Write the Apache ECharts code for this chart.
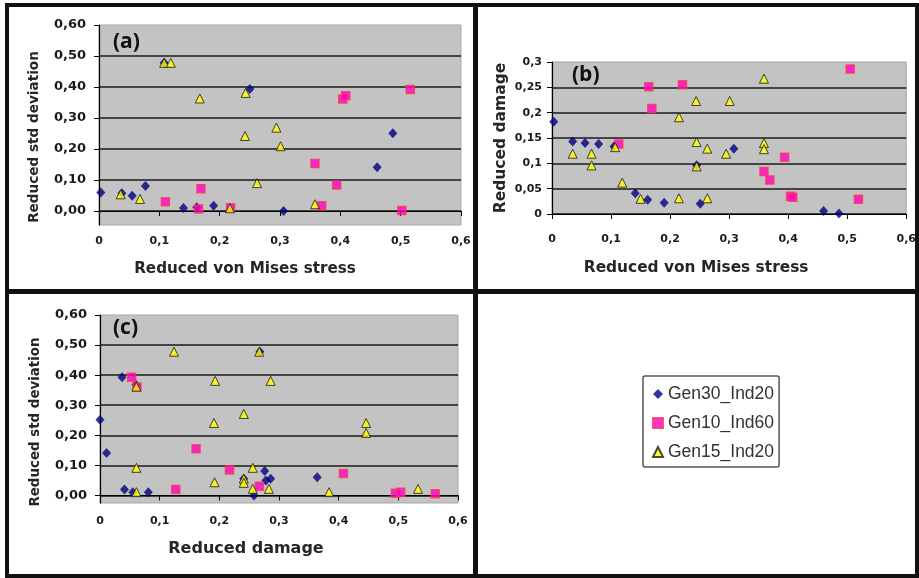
<!DOCTYPE html>
<html>
<head>
<meta charset="utf-8">
<script src="https://cdn.jsdelivr.net/npm/echarts@6/dist/echarts.min.js"></script>
<style>
  body { margin: 0; background: #fff; }
  #wrap { position: relative; width: 919px; height: 578px; }
  #main { width: 919px; height: 578px; }
  .ln { position: absolute; background: #111; pointer-events: none; }
</style>
</head>
<body>
<div id="wrap">
  <div id="main"></div>
  <!-- panel frames -->
  <div class="ln" style="left:5px;top:3px;width:914px;height:4px;"></div>
  <div class="ln" style="left:5px;top:3px;width:4px;height:575px;"></div>
  <div class="ln" style="left:915px;top:3px;width:4px;height:575px;"></div>
  <div class="ln" style="left:5px;top:574px;width:914px;height:4px;"></div>
  <div class="ln" style="left:473px;top:3px;width:5px;height:575px;"></div>
  <div class="ln" style="left:5px;top:289px;width:914px;height:5px;"></div>
</div>
<script>
// tick values
const stressTicks = [0, 0.1, 0.2, 0.3, 0.4, 0.5, 0.6];
const damageTicksX = [0, 0.1, 0.2, 0.3, 0.4, 0.5, 0.6];
const stdTicks = [0, 0.1, 0.2, 0.3, 0.4, 0.5, 0.6];
const damageTicksY = [0, 0.05, 0.1, 0.15, 0.2, 0.25, 0.3];
const seriesNames = ['Gen30_Ind20', 'Gen10_Ind60', 'Gen15_Ind20'];

// (a) reduced von Mises stress vs reduced std deviation
const aGen30 = [[0.003,0.060],[0.038,0.057],[0.055,0.049],[0.077,0.081],[0.108,0.478],[0.140,0.010],[0.162,0.012],[0.190,0.017],[0.250,0.394],[0.306,0.000],[0.461,0.141],[0.487,0.251]];
const aGen10 = [[0.110,0.030],[0.165,0.007],[0.169,0.072],[0.218,0.011],[0.358,0.153],[0.369,0.017],[0.394,0.084],[0.404,0.361],[0.409,0.372],[0.502,0.002],[0.516,0.392]];
const aGen15 = [[0.036,0.054],[0.068,0.039],[0.108,0.478],[0.119,0.478],[0.167,0.363],[0.217,0.009],[0.242,0.242],[0.243,0.381],[0.262,0.090],[0.294,0.269],[0.301,0.209],[0.358,0.022]];

// (b) reduced von Mises stress vs reduced damage
const bGen30 = [[0.003,0.182],[0.035,0.143],[0.056,0.140],[0.079,0.138],[0.105,0.133],[0.141,0.041],[0.162,0.028],[0.190,0.022],[0.245,0.096],[0.251,0.020],[0.308,0.129],[0.460,0.006],[0.486,0.001]];
const bGen10 = [[0.113,0.138],[0.164,0.251],[0.169,0.208],[0.221,0.255],[0.359,0.084],[0.369,0.067],[0.394,0.112],[0.404,0.035],[0.408,0.033],[0.505,0.286],[0.519,0.029]];
const bGen15 = [[0.035,0.119],[0.067,0.119],[0.067,0.096],[0.107,0.132],[0.119,0.062],[0.150,0.030],[0.215,0.191],[0.215,0.031],[0.244,0.223],[0.245,0.142],[0.245,0.094],[0.263,0.129],[0.263,0.031],[0.295,0.119],[0.301,0.223],[0.359,0.267],[0.359,0.140],[0.359,0.128]];

// (c) reduced damage vs reduced std deviation
const cGen30 = [[0.000,0.252],[0.011,0.141],[0.037,0.393],[0.041,0.020],[0.055,0.011],[0.060,0.368],[0.081,0.011],[0.241,0.056],[0.258,0.000],[0.268,0.478],[0.276,0.081],[0.278,0.050],[0.286,0.056],[0.364,0.061]];
const cGen10 = [[0.053,0.393],[0.062,0.361],[0.127,0.020],[0.161,0.155],[0.217,0.085],[0.267,0.031],[0.408,0.073],[0.495,0.007],[0.504,0.011],[0.562,0.006]];
const cGen15 = [[0.061,0.362],[0.061,0.092],[0.061,0.011],[0.124,0.478],[0.191,0.241],[0.192,0.044],[0.193,0.381],[0.241,0.271],[0.241,0.056],[0.241,0.042],[0.256,0.092],[0.256,0.022],[0.267,0.478],[0.283,0.022],[0.286,0.381],[0.384,0.011],[0.446,0.241],[0.446,0.208],[0.533,0.022]];

const chart = echarts.init(document.getElementById('main'));

const fmtGeneral = v => String(+v.toFixed(2)).replace('.', ',');
const fmtFixed2 = v => v.toFixed(2).replace('.', ',');

const labelStyle = size => ({ color: '#1a1a1a', fontWeight: 'bold', fontFamily: 'DejaVu Sans', fontSize: size });
const nameStyle = (size, pad) => ({ color: '#262626', fontWeight: 'bold', fontFamily: 'DejaVu Sans', fontSize: size, padding: pad });

const makeX = (grid, ticks, name, margin, gap, nameSize, namePad) => ({
  type: 'value', gridIndex: grid, min: 0, max: 0.6,
  name: name, nameLocation: 'middle', nameGap: gap, nameTextStyle: nameStyle(nameSize, namePad),
  axisLine: { onZero: true, lineStyle: { color: '#000', width: 1.2 } },
  axisTick: { show: true, length: 5, customValues: ticks, lineStyle: { color: '#000' } },
  axisLabel: Object.assign({ margin: margin, customValues: ticks, formatter: fmtGeneral, showMinLabel: true, showMaxLabel: true }, labelStyle(11)),
  splitLine: { show: false }
});

const makeY = (grid, ticks, min, max, name, margin, gap, fmt, labelSize, nameSize, namePad) => ({
  type: 'value', gridIndex: grid, min: min, max: max,
  name: name, nameLocation: 'middle', nameGap: gap, nameTextStyle: nameStyle(nameSize, namePad),
  axisLine: { show: true, onZero: false, lineStyle: { color: '#000', width: 1.2 } },
  axisTick: { show: true, length: 5, customValues: ticks, lineStyle: { color: '#000' } },
  axisLabel: Object.assign({ margin: margin, customValues: ticks, formatter: fmt, showMinLabel: true, showMaxLabel: true }, labelStyle(labelSize)),
  splitLine: { show: true, showMaxLine: false, lineStyle: { color: '#1a1a1a', width: 1.5 } }
});

const gridStyle = { show: true, backgroundColor: '#c3c3c3', borderColor: '#a8a8a8', borderWidth: 1 };

const diamond = { symbol: 'diamond', symbolSize: [9, 10], itemStyle: { color: '#000080' } };
const square = { symbol: 'rect', symbolSize: 8, itemStyle: { color: '#ff00cc', borderColor: '#ff3355', borderWidth: 1.5 } };
const triangle = { symbol: 'triangle', symbolSize: 9, itemStyle: { color: '#ffff00', borderColor: '#1a1a1a', borderWidth: 1 } };
const styles = [diamond, square, triangle];

const panels = [[aGen30, aGen10, aGen15], [bGen30, bGen10, bGen15], [cGen30, cGen10, cGen15]];
const series = [];
panels.forEach((sets, p) => {
  sets.forEach((data, i) => {
    series.push(Object.assign({
      type: 'scatter', name: seriesNames[i], xAxisIndex: p, yAxisIndex: p, data: data, z: 2 + i
    }, styles[i]));
  });
});

const titleStyle = { fontFamily: 'Open Sans', fontWeight: 'bold', fontSize: 21, color: '#111' };

const option = {
  animation: false,
  title: [
    { text: '(a)', left: 113, top: 32, textStyle: titleStyle, padding: 0 },
    { text: '(b)', left: 572, top: 65, textStyle: titleStyle, padding: 0 },
    { text: '(c)', left: 113, top: 318, textStyle: titleStyle, padding: 0 }
  ],
  grid: [
    Object.assign({ left: 99, right: 458, top: 25, bottom: 353 }, gridStyle),
    Object.assign({ left: 552, right: 8, top: 62, bottom: 364 }, gridStyle),
    Object.assign({ left: 100, right: 461, top: 315, bottom: 75 }, gridStyle)
  ],
  xAxis: [
    makeX(0, stressTicks, 'Reduced von Mises stress', 11, 37, 15.2, [0, 70, 0, 0]),
    makeX(1, stressTicks, 'Reduced von Mises stress', 20, 46, 15.4, [0, 66, 0, 0]),
    makeX(2, damageTicksX, 'Reduced damage', 13, 38, 16, [0, 66, 0, 0])
  ],
  yAxis: [
    makeY(0, stdTicks, -0.045, 0.6, 'Reduced std deviation', 13, 58, fmtFixed2, 13, 13.6, [0, 24, 0, 0]),
    makeY(1, damageTicksY, 0, 0.3, 'Reduced damage', 10, 43, fmtGeneral, 11, 15.5, 0),
    makeY(2, stdTicks, -0.025, 0.6, 'Reduced std deviation', 13, 58, fmtFixed2, 13, 13.4, [0, 26, 0, 0])
  ],
  legend: {
    data: seriesNames,
    orient: 'vertical',
    left: 643, top: 376,
    padding: [9, 5, 6, 9],
    itemGap: 11,
    itemWidth: 10, itemHeight: 10,
    borderColor: '#555', borderWidth: 1.5, borderRadius: 2,
    textStyle: { fontFamily: 'Liberation Sans', fontSize: 17.5, color: '#333' }
  },
  series: series
};

chart.setOption(option);
</script>
</body>
</html>
